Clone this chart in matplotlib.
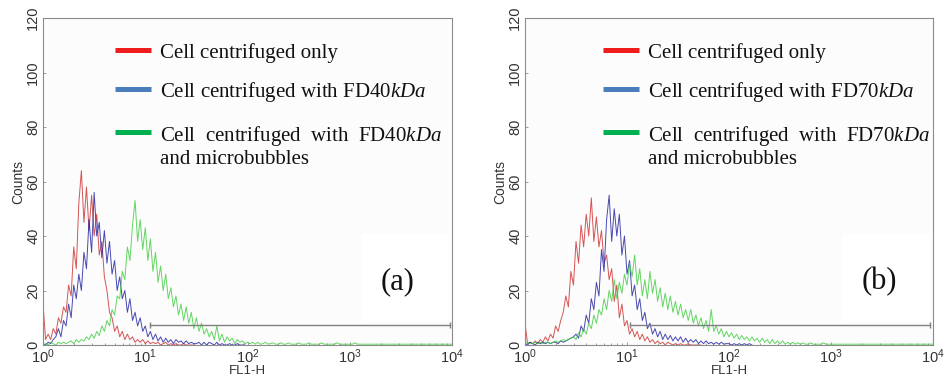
import numpy as np
import matplotlib
matplotlib.use("Agg")
import matplotlib.pyplot as plt
from matplotlib.patches import Rectangle

plt.rcParams['font.family'] = ['Liberation Sans', 'DejaVu Sans']
plt.rcParams['mathtext.fontset'] = 'custom'
plt.rcParams['mathtext.it'] = 'Liberation Serif:italic'
plt.rcParams['mathtext.rm'] = 'Liberation Sans'

# histogram channels, 0.025 decade apart starting at FL1-H = 10^0
DECADE_STEP = 0.025

# panel (a): FD40kDa
red_a = [15, 2, 4, 2, 6, 4, 10, 8, 14, 12,
         22, 18, 36, 28, 52, 64, 45, 58, 42, 55,
         40, 48, 33, 38, 25, 20, 12, 10, 5, 7,
         3, 5, 2, 4, 2, 3, 1, 2, 1, 2,
         0.5, 1.5, 0.5, 1, 0.5, 1, 0, 0.5, 1, 0,
         0.5, 0, 0.5, 0, 0, 0.5, 0, 0, 0, 0]
blue_a = [0.5, 0, 1, 0.5, 2, 3, 6, 3, 9, 7,
          15, 10, 22, 17, 26, 20, 34, 28, 46, 34,
          56, 40, 45, 32, 42, 30, 38, 26, 31, 20,
          25, 17, 20, 12, 17, 9, 12, 7, 10, 5,
          7, 3, 5, 2, 4, 1.5, 3, 1, 2.5, 1,
          2, 0.5, 2, 1, 1.5, 0.5, 1.5, 0.5, 1, 0.5,
          0.5, 1, 0, 1, 0, 1, 0.5, 0, 1, 0,
          0.5, 0, 0, 0.5, 0, 0, 0.5, 0, 0, 0]
green_a = [0, 0.5, 0, 1, 0.5, 0, 1, 0.5, 1, 0.5,
           1, 1.5, 0.5, 2, 1, 2, 1.5, 3, 2, 4,
           2.5, 5, 3.5, 7, 5, 9, 7, 13, 11, 18,
           17, 27, 24, 36, 31, 44, 53, 38, 46, 35,
           43, 31, 39, 27, 34, 23, 29, 20, 26, 17,
           21, 14, 18, 11, 15, 9, 14, 8, 12, 6,
           10, 5, 8, 4, 6, 3, 5, 2, 7, 1.5,
           4, 1, 3, 1.5, 2.5, 0.5, 2, 1, 1.5, 0.5,
           1, 0.5, 1, 0.3, 1, 0.3, 0.5, 1, 0.3, 0.5,
           0.8, 0.3, 0.3, 0.8, 0.3, 0.3, 0.8, 0.3, 0.3, 0.3,
           0.8, 0.3, 0.3, 0.3, 0.8, 0.3, 0.3, 0.3, 0.3, 0.8,
           0.3, 0.3, 0.3, 0.3, 0.3, 0.8, 0.3, 0.3, 0.3, 0.3,
           0.3, 0.3, 0.8, 0.3, 0.3, 0.3, 0.3, 0.3, 0.3, 0.3,
           0.3, 0.3, 0.3, 0.3, 0.3, 0.3, 0.3, 0.3, 0.3, 0.3,
           0.3, 0.3, 0.3, 0.3, 0.3, 0.3, 0.3, 0.3, 0.3, 0.3,
           0.3, 0.3, 0.3, 0.3, 0.3, 0.3, 0.3, 0.3, 0.3, 0.3,
           0.3]

# panel (b): FD70kDa
red_b = [8, 0.5, 1, 0.5, 1.5, 0.5, 2, 1, 3, 1.5,
         4, 2.5, 7, 5, 9, 12, 18, 14, 27, 22,
         38, 30, 44, 36, 48, 40, 54, 38, 47, 36,
         42, 30, 33, 24, 28, 16, 22, 10, 15, 7,
         9, 4, 6, 3, 5, 2, 4, 1.5, 3, 1,
         2, 0.5, 1.5, 0.5, 1, 0, 1, 0.5, 0, 0.5,
         0, 0.5, 0, 0, 0.5, 0, 0, 0, 0, 0]
blue_b = [0.5, 0, 1, 0.5, 0, 1, 0.5, 1, 0.5, 1,
          0.5, 1, 1, 0.5, 1.5, 1, 1.5, 2, 2.5, 3,
          4, 2.5, 7, 5, 11, 8, 17, 13, 23, 18,
          35, 27, 46, 55, 38, 50, 40, 48, 33, 40,
          26, 31, 18, 22, 13, 17, 9, 12, 6, 8,
          4, 6, 3, 5, 2, 4, 2, 3.5, 1.5, 3,
          1.5, 3, 1, 2.5, 1, 2, 1, 2, 0.5, 1.5,
          0.5, 1.5, 0.5, 1, 0.3, 1, 0.3, 1, 0.3, 0.5,
          0.5, 0, 0.5, 0, 0.5, 0, 0.5, 0, 0.5, 0]
green_b = [0.5, 1, 0.5, 0.5, 1, 0.5, 1, 0.5, 1, 1,
           0.5, 1, 1.5, 1, 1.5, 2, 1.5, 2, 2.5, 3,
           2, 4.5, 3, 6, 4, 8, 6, 11, 8, 13,
           11, 17, 13, 20, 16, 24, 17, 23, 19, 26,
           22, 30, 25, 33, 22, 28, 18, 24, 17, 27,
           19, 24, 16, 21, 14, 19, 13, 18, 12, 16,
           11, 15, 10, 13, 9, 13, 8, 11, 7, 10,
           6, 9, 5, 13, 5, 7, 4, 6, 3, 5,
           3, 4.5, 2.5, 4, 2, 3.5, 2, 3, 1.5, 3,
           1.5, 2.5, 1, 2.5, 1, 2, 0.5, 2, 0.5, 1.5,
           0.5, 1.5, 0.3, 1, 0.3, 1, 0.3, 0.8, 0.3, 0.8,
           0.3, 0.3, 0.8, 0.3, 0.3, 0.3, 0.3, 0.8, 0.3, 0.3,
           0.3, 0.3, 0.3, 0.3, 0.3, 0.3, 0.3, 0.3, 0.3, 0.3,
           0.3, 0.3, 0.3, 0.3, 0.3, 0.3, 0.3, 0.3, 0.3, 0.3,
           0.3, 0.3, 0.3, 0.3, 0.3, 0.3, 0.3, 0.3, 0.3, 0.3,
           0.3, 0.3, 0.3, 0.3, 0.3, 0.3, 0.3, 0.3, 0.3, 0.3,
           0.3]

# gate marker (M1) on both histograms
gate_a = [11.2, 9500]
gate_b = [10.7, 9300]
gate_count = 7.3

legend_a = ["Cell centrifuged only",
            "Cell centrifuged with FD40$kDa$",
            "Cell  centrifuged  with  FD40$kDa$"]
legend_b = ["Cell centrifuged only",
            "Cell centrifuged with FD70$kDa$",
            "Cell  centrifuged  with  FD70$kDa$"]
legend_tail = "and microbubbles"

line_colors = ['#cc2a2a', '#1c1ca0', '#3ccc3c']
key_colors = ['#ee1c1c', '#4a7ebb', '#00b050']

yticks = [0, 20, 40, 60, 80, 100, 120]


def channels(vals):
    return 10 ** (np.arange(len(vals)) * DECADE_STEP)


def draw_panel(ax, series, gate, labels, tag, key_x):
    ax.set_facecolor('#fcfcfc')
    ax.add_patch(Rectangle((0.78, 0.07), 0.21, 0.27, transform=ax.transAxes,
                           facecolor='white', edgecolor='none', zorder=0))
    for vals, col in zip(series, line_colors):
        ax.plot(channels(vals), vals, color=col, lw=0.7, alpha=0.8, zorder=2)
    ax.plot(gate, [gate_count, gate_count], color='#808080', lw=1.0,
            marker='|', ms=4, mew=1.0, zorder=3)

    ax.set_xscale('log')
    ax.set_xlim(1, 1e4)
    ax.set_ylim(0, 120)
    ax.set_yticks(yticks)
    ax.tick_params(axis='both', direction='in', length=2, width=0.6,
                   color='#909090', labelsize=10.5, labelcolor='#333333', pad=2)
    ax.tick_params(axis='x', which='minor', direction='in', length=1.5,
                   width=0.6, color='#909090')
    plt.setp(ax.get_yticklabels(), rotation=90, va='center')
    for sp in ax.spines.values():
        sp.set_color('#8c8c8c')
        sp.set_linewidth(0.8)
    ax.set_xlabel("FL1-H", fontsize=9.5, color='#333333')
    ax.xaxis.set_label_coords(0.5, -0.062)
    ax.set_ylabel("Counts", fontsize=10, color='#333333', labelpad=1)

    # key drawn as in the original figure
    key_y = [0.902, 0.783, 0.651]
    for yk, col, lab in zip(key_y, key_colors, labels):
        ax.plot([key_x, key_x + 0.088], [yk, yk], color=col, lw=3.6,
                solid_capstyle='butt', transform=ax.transAxes, zorder=4)
        ax.text(key_x + 0.11, yk, lab, transform=ax.transAxes,
                family='Liberation Serif', fontsize=15, va='center_baseline',
                color='#111111')
    ax.text(key_x + 0.11, 0.575, legend_tail, transform=ax.transAxes,
            family='Liberation Serif', fontsize=15, va='center_baseline',
            color='#111111')
    ax.text(0.868, 0.193, tag, transform=ax.transAxes, family='Liberation Serif',
            fontsize=22, ha='center', va='center', color='#111111')


fig = plt.figure(figsize=(9.48, 3.79), dpi=100)
ax_a = fig.add_axes([0.0454, 0.0897, 0.4314, 0.8628])
ax_b = fig.add_axes([0.5538, 0.0897, 0.4304, 0.8628])

draw_panel(ax_a, [red_a, blue_a, green_a], gate_a, legend_a, "(a)", 0.176)
draw_panel(ax_b, [red_b, blue_b, green_b], gate_b, legend_b, "(b)", 0.191)

fig.savefig("out.png", dpi=100)
